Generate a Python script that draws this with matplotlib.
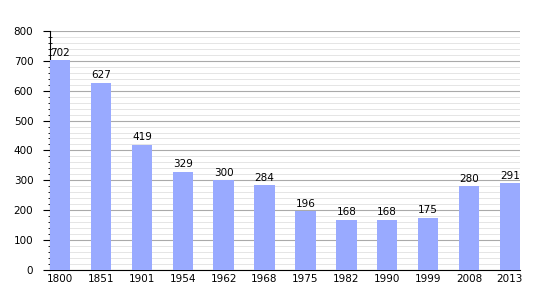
import matplotlib.pyplot as plt
from matplotlib.ticker import MultipleLocator

years = ['1800', '1851', '1901', '1954', '1962', '1968', '1975', '1982', '1990', '1999', '2008', '2013']
pop = [702, 627, 419, 329, 300, 284, 196, 168, 168, 175, 280, 291]

fig = plt.figure(figsize=(5.5, 3), dpi=100)
ax = fig.add_axes([0.0909, 0.1, 0.8545, 0.797])

x = range(len(years))
ax.bar(x, pop, width=0.5, color='#99aaff', zorder=3)
for i, v in enumerate(pop):
    ax.text(i, v + 8, str(v), ha='center', va='bottom', fontsize=7.5, zorder=4)

ax.set_xlim(-0.25, len(years) - 0.75)
ax.set_ylim(0, 800)
ax.set_xticks(list(x))
ax.set_xticklabels(years)
ax.yaxis.set_major_locator(MultipleLocator(100))
ax.yaxis.set_minor_locator(MultipleLocator(20))
ax.grid(axis='y', which='major', color='#aaaaaa', linewidth=0.8, zorder=0)
ax.grid(axis='y', which='minor', color='#e0e0e0', linewidth=0.6, zorder=0)
ax.tick_params(axis='both', labelsize=7.5)
ax.tick_params(axis='x', length=0, pad=3)
ax.tick_params(axis='y', which='major', length=5, direction='out', pad=7)
ax.tick_params(axis='y', which='minor', length=3, direction='inout')
for s in ['top', 'right']:
    ax.spines[s].set_visible(False)

fig.savefig('out.png')
